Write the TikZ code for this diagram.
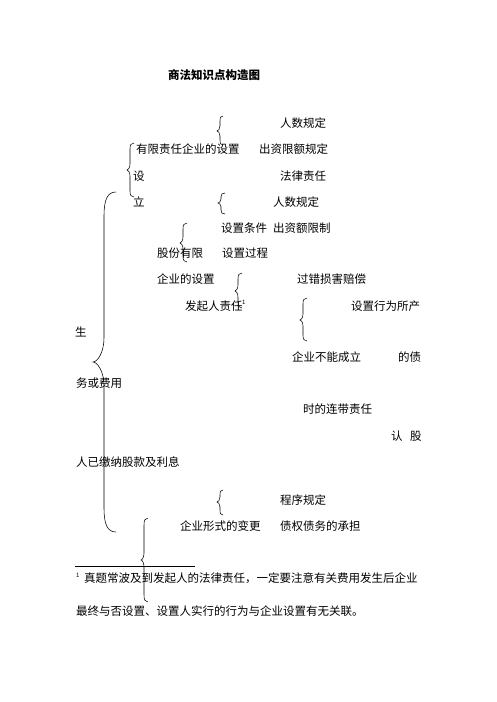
\documentclass[tikz,border=0pt]{standalone}
\usepackage{fontspec}
\setmainfont{Noto Sans CJK SC}
\newcommand{\mybrace}[7]{%
  \draw[bracestyle] (#3,#4) .. controls ({#2+0.3*(#3-#2)},#4) and (#2,{#4+0.3*#7}) .. ({#2},{#4+#7}) -- ({#2},{#5-#7})
    .. controls (#2,{#5-0.4*#7}) and ({#1+0.4*(#2-#1)},#5) .. (#1,#5) .. controls ({#1+0.4*(#2-#1)},#5) and (#2,{#5+0.4*#7}) .. ({#2},{#5+#7})
    -- ({#2},{#6-#7}) .. controls (#2,{#6-0.3*#7}) and ({#2+0.3*(#3-#2)},#6) .. (#3,#6);}
\begin{document}
\begin{tikzpicture}[x=1pt,y=-1pt,
  txt/.style={anchor=west,inner sep=0pt,font=\fontsize{11.5}{12}\selectfont},
  ttl/.style={anchor=west,inner sep=0pt,font=\fontsize{11.5}{12}\selectfont\bfseries},
  sup/.style={anchor=west,inner sep=0pt,font=\fontsize{6}{7}\selectfont},
  bracestyle/.style={line width=0.55pt,black}]
\useasboundingbox[fill=white] (0,0) rectangle (496,702);
\node[ttl] (title) at (168,75) {商法知识点构造图};
\node[txt] (t1) at (280,123) {人数规定};
\node[txt] (t2) at (136,149) {有限责任企业的设置};
\node[txt] (t3) at (259,149) {出资限额规定};
\node[txt] (t4) at (133,176) {设};
\node[txt] (t5) at (280,176) {法律责任};
\node[txt] (t6) at (133,202) {立};
\node[txt] (t7) at (273,202) {人数规定};
\node[txt] (t8) at (221,228) {设置条件};
\node[txt] (t9) at (273,228) {出资额限制};
\node[txt] (t10) at (157,253) {股份有限};
\node[txt] (t11) at (222,253) {设置过程};
\node[txt] (t12) at (157,279) {企业的设置};
\node[txt] (t13) at (297,279) {过错损害赔偿};
\node[txt] (t14) at (185,306) {发起人责任};
\node[sup] (fm1) at (242,302) {1};
\node[txt] (t15) at (351,306) {设置行为所产};
\node[txt] (t16) at (75,332) {生};
\node[txt] (t17) at (292,357) {企业不能成立};
\node[txt] (t18) at (398,357) {的债};
\node[txt] (t19) at (76,383) {务或费用};
\node[txt] (t20) at (303,409) {时的连带责任};
\node[txt] (t21) at (391,436) {认};
\node[txt] (t22) at (410,436) {股};
\node[txt] (t23) at (76,462) {人已缴纳股款及利息};
\node[txt] (t24) at (280,500) {程序规定};
\node[txt] (t25) at (180,526) {企业形式的变更};
\node[txt] (t26) at (280,526) {债权债务的承担};
\draw[line width=0.6pt] (75,566) -- (195,566);
\node[sup] (fm2) at (76,575) {1};
\node[txt] (f1) at (84,578) {真题常波及到发起人的法律责任，一定要注意有关费用发生后企业};
\node[txt] (f2) at (76,611) {最终与否设置、设置人实行的行为与企业设置有无关联。};
% braces
\mybrace{217}{220}{223}{116}{131}{145}{5}
\mybrace{127}{130}{134}{143}{170}{197}{6}
\mybrace{218}{221}{225}{193}{203}{214}{4}
\mybrace{180}{183}{187}{223}{243}{262}{6}
\mybrace{235}{238}{242}{273}{291}{308}{6}
\mybrace{300}{303}{307}{298}{320}{341}{6}
\mybrace{217}{220}{223}{490}{502}{515}{5}
\mybrace{141}{144}{148}{518}{560}{602}{7}
\mybrace{93}{104}{116}{192}{362}{532}{24}
\end{tikzpicture}
\end{document}
